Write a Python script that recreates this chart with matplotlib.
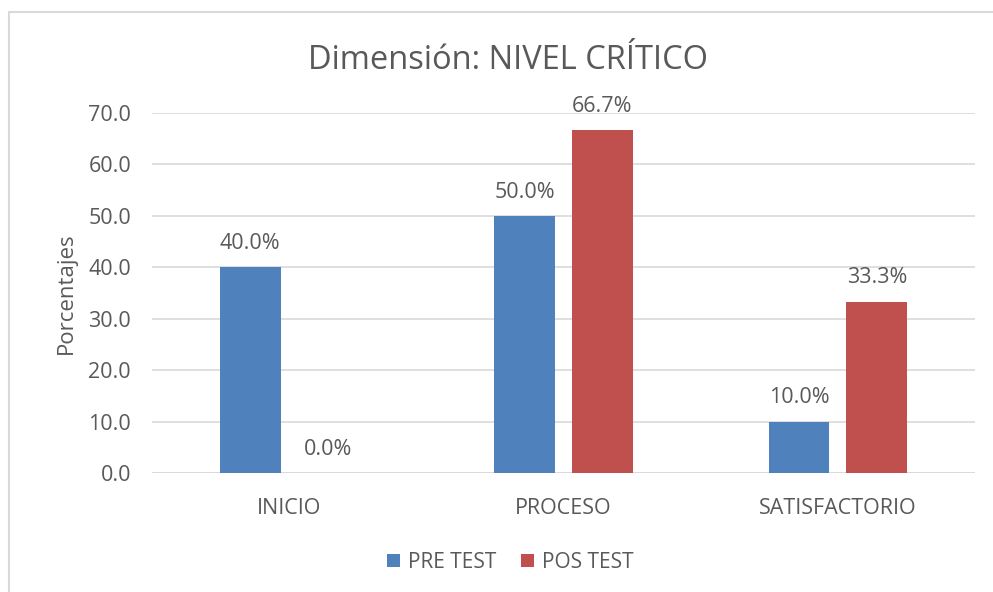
import matplotlib
matplotlib.use("Agg")
import matplotlib.pyplot as plt
import numpy as np
from matplotlib.patches import Rectangle

plt.rcParams['font.family'] = ['Open Sans', 'DejaVu Sans']

categories = ['INICIO', 'PROCESO', 'SATISFACTORIO']
pre_test = [40.0, 50.0, 10.0]
pos_test = [0.0, 66.7, 33.3]
series_names = ['PRE TEST', 'POS TEST']
yticks = [0, 10, 20, 30, 40, 50, 60, 70]

blue = '#4F81BD'
red = '#C0504D'
txt = '#595959'
grid = '#D9D9D9'

fig = plt.figure(figsize=(9.93, 5.92), dpi=100)
ax = fig.add_axes([0.153, 0.201, 0.829, 0.608])

# chart border
fig.patches.append(Rectangle((0.009, -0.05), 1.2, 1.03, transform=fig.transFigure,
                             fill=False, edgecolor=grid, linewidth=1.5))

x = np.arange(len(categories))
w = 0.222
off = 0.142
b1 = ax.bar(x - off, pre_test, w, color=blue, label=series_names[0], zorder=3)
b2 = ax.bar(x + off, pos_test, w, color=red, label=series_names[1], zorder=3)

for bars in (b1, b2):
    for r in bars:
        h = r.get_height()
        ax.text(r.get_x() + r.get_width() / 2, h + 2.6, '%.1f%%' % h,
                ha='center', va='bottom', fontsize=15.5, color=txt)

ax.set_xlim(-0.5, 2.5)
ax.set_ylim(0, 70)
ax.set_yticks(yticks)
ax.set_yticklabels(['%.1f' % v for v in yticks])
ax.set_xticks(x)
ax.set_xticklabels(categories)
ax.tick_params(axis='both', length=0, labelsize=15.5, colors=txt)
ax.tick_params(axis='y', pad=15)
ax.tick_params(axis='x', pad=18)
ax.grid(axis='y', color=grid, linewidth=1.2, zorder=0)
ax.axhline(0, color=grid, linewidth=1.2, zorder=1)
for s in ax.spines.values():
    s.set_visible(False)

ax.set_ylabel('Porcentajes', fontsize=16, color=txt, labelpad=8)
fig.text(0.512, 0.897, 'Dimensión: NIVEL CRÍTICO', ha='center', va='center',
         fontsize=23.5, color=txt)

fig.legend(loc='center', bbox_to_anchor=(0.514, 0.05), ncol=2, frameon=False,
           fontsize=15, labelcolor=txt, handlelength=0.6, handleheight=0.6,
           handletextpad=0.4, columnspacing=1.2)

fig.savefig('out.png', dpi=100)
